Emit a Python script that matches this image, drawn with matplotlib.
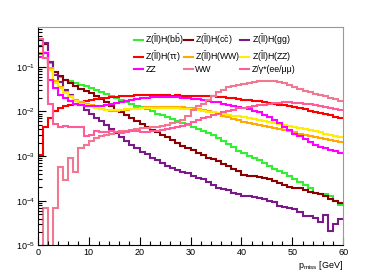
import numpy as np
import matplotlib
matplotlib.use('Agg')
import matplotlib.pyplot as plt
from matplotlib.ticker import LogLocator, MultipleLocator, NullFormatter

plt.rcParams['font.family'] = ['Liberation Sans', 'DejaVu Sans']
plt.rcParams['mathtext.fontset'] = 'custom'
plt.rcParams['mathtext.rm'] = 'Liberation Sans'
plt.rcParams['mathtext.it'] = 'Liberation Sans:italic'

# p_miss bins: 1 GeV wide, 0-60 GeV
edges = np.linspace(0, 60, 61)

zh_bb = [0.19, 0.20, 0.12, 0.075, 0.06, 0.052, 0.047, 0.043, 0.040, 0.037,
         0.034, 0.031, 0.028, 0.025, 0.022, 0.020, 0.018, 0.016, 0.0148, 0.0136,
         0.0125, 0.0112, 0.0100, 0.0090, 0.0082, 0.0074, 0.0067, 0.0060, 0.0054, 0.0049,
         0.0045, 0.0041, 0.0037, 0.0033, 0.0029, 0.0026, 0.0022, 0.0019, 0.0016, 0.0013,
         0.00115, 0.00100, 0.00090, 0.00080, 0.00070, 0.00060, 0.00052, 0.00046, 0.00041, 0.00035,
         0.00030, 0.00026, 0.00022, 0.00019, 0.00015, 0.000145, 0.00014, 0.00013, 0.00010, 0.00008]
zh_cc = [0.30, 0.32, 0.13, 0.075, 0.062, 0.050, 0.043, 0.037, 0.032, 0.029,
         0.026, 0.022, 0.019, 0.016, 0.013, 0.011, 0.0095, 0.0082, 0.0070, 0.0060,
         0.0052, 0.0045, 0.0039, 0.0034, 0.0030, 0.0027, 0.0023, 0.0020, 0.0017, 0.0015,
         0.0014, 0.0012, 0.00105, 0.00092, 0.00085, 0.00078, 0.00068, 0.00060, 0.00052, 0.00046,
         0.00038, 0.00036, 0.00035, 0.00034, 0.00033, 0.00031, 0.00028, 0.00025, 0.00022, 0.00020,
         0.00019, 0.00019, 0.00017, 0.00016, 0.00015, 0.000145, 0.00013, 0.00011, 0.00010, 0.00009]
zh_gg = [0.30, 0.34, 0.13, 0.066, 0.045, 0.031, 0.024, 0.018, 0.014, 0.011,
         0.0090, 0.0073, 0.0060, 0.0050, 0.0040, 0.0033, 0.0027, 0.0022, 0.0018, 0.0015,
         0.00126, 0.0011, 0.0009, 0.0008, 0.0007, 0.00059, 0.00055, 0.00050, 0.00045, 0.00042,
         0.00035, 0.00033, 0.00030, 0.00026, 0.00022, 0.00019, 0.00018, 0.00017, 0.00015, 0.00014,
         0.000125, 0.00013, 0.00012, 0.000115, 0.00011, 0.00010, 0.000095, 0.000075, 0.000072, 0.00007,
         0.000065, 0.000055, 0.000046, 0.000045, 0.000042, 0.000034, 0.000048, 0.000021, 0.00003, 0.00004]
zh_tautau = [0.00107, 0.0046, 0.0070, 0.0105, 0.0120, 0.0130, 0.0140, 0.0150, 0.0160, 0.0170,
             0.0180, 0.0190, 0.0200, 0.0205, 0.0210, 0.0215, 0.0220, 0.0225, 0.0228, 0.0230,
             0.0232, 0.0235, 0.0235, 0.0233, 0.0232, 0.0230, 0.0228, 0.0230, 0.0228, 0.0225,
             0.0222, 0.0222, 0.0225, 0.0222, 0.0220, 0.0215, 0.0210, 0.0205, 0.0200, 0.0190,
             0.0185, 0.0180, 0.0175, 0.0168, 0.0162, 0.0156, 0.0150, 0.0143, 0.0137, 0.0130,
             0.0124, 0.0117, 0.0111, 0.0105, 0.0099, 0.0094, 0.0088, 0.0082, 0.0077, 0.0071]
zh_ww = [0.20, 0.20, 0.093, 0.047, 0.035, 0.028, 0.022, 0.018, 0.016, 0.015,
         0.014, 0.0125, 0.0115, 0.0108, 0.0105, 0.0105, 0.0108, 0.0110, 0.0113, 0.0118,
         0.0120, 0.0123, 0.0125, 0.0127, 0.0128, 0.0128, 0.0128, 0.0125, 0.0123, 0.0121,
         0.0118, 0.0112, 0.0108, 0.0102, 0.0097, 0.0092, 0.0080, 0.0074, 0.0068, 0.0063,
         0.0059, 0.0055, 0.0052, 0.0049, 0.0047, 0.0045, 0.0043, 0.0041, 0.0038, 0.0036,
         0.0034, 0.0032, 0.0030, 0.0028, 0.0027, 0.0026, 0.0024, 0.0023, 0.0022, 0.0021]
zh_zz = [0.17, 0.22, 0.085, 0.043, 0.033, 0.026, 0.021, 0.017, 0.015, 0.014,
         0.013, 0.012, 0.0115, 0.011, 0.011, 0.011, 0.011, 0.0112, 0.0113, 0.0115,
         0.0117, 0.0118, 0.0120, 0.0121, 0.0122, 0.0122, 0.0120, 0.0118, 0.0115, 0.0112,
         0.0110, 0.0107, 0.0103, 0.0099, 0.0095, 0.0092, 0.0088, 0.0085, 0.0081, 0.0078,
         0.0075, 0.0072, 0.0068, 0.0065, 0.0062, 0.0059, 0.0056, 0.0053, 0.0050, 0.0047,
         0.0045, 0.0042, 0.0040, 0.0038, 0.0036, 0.0034, 0.0032, 0.0030, 0.0028, 0.0027]
zz = [0.17, 0.20, 0.050, 0.033, 0.024, 0.020, 0.017, 0.015, 0.014, 0.0135,
      0.013, 0.013, 0.0132, 0.0138, 0.0145, 0.0155, 0.0165, 0.0175, 0.0185, 0.0195,
      0.020, 0.0205, 0.021, 0.0215, 0.0215, 0.0215, 0.0212, 0.021, 0.0205, 0.020,
      0.0195, 0.0188, 0.018, 0.0173, 0.0167, 0.016, 0.015, 0.0143, 0.0135, 0.0128,
      0.012, 0.0112, 0.0105, 0.0095, 0.0085, 0.0075, 0.0065, 0.0055, 0.0045, 0.0038,
      0.0032, 0.0028, 0.0024, 0.0021, 0.0018, 0.0016, 0.0015, 0.0014, 0.0013, 0.00115]
ww = [0, 7e-5, 0, 7e-5, 5.8e-4, 2.9e-4, 9e-4, 4.4e-4, 1.5e-3, 1.8e-3,
      2.2e-3, 2.5e-3, 2.8e-3, 3.0e-3, 3.2e-3, 3.4e-3, 3.6e-3, 3.7e-3, 3.9e-3, 4.0e-3,
      4.2e-3, 4.3e-3, 4.4e-3, 4.6e-3, 4.7e-3, 5.0e-3, 5.4e-3, 5.8e-3, 6.5e-3, 8.0e-3,
      0.011, 0.013, 0.015, 0.018, 0.022, 0.027, 0.031, 0.035, 0.038, 0.040,
      0.042, 0.044, 0.046, 0.047, 0.047, 0.047, 0.047, 0.045, 0.043, 0.040,
      0.036, 0.032, 0.029, 0.027, 0.025, 0.024, 0.022, 0.020, 0.019, 0.017]
zgamma = [0.43, 0.16, 0.015, 0.0052, 0.0046, 0.0047, 0.0044, 0.0046, 0.0045, 0.0028,
          0.0030, 0.0036, 0.0035, 0.0034, 0.0036, 0.0034, 0.0033, 0.0035, 0.0037, 0.0036,
          0.0035, 0.0034, 0.0036, 0.0037, 0.0039, 0.0040, 0.0042, 0.0044, 0.0047, 0.0052,
          0.0058, 0.0064, 0.0070, 0.0076, 0.0082, 0.0088, 0.0095, 0.0102, 0.0110, 0.0117,
          0.0122, 0.0128, 0.0133, 0.0138, 0.0143, 0.0148, 0.0153, 0.0157, 0.0160, 0.0160,
          0.0158, 0.0155, 0.0150, 0.0145, 0.0140, 0.0133, 0.0127, 0.0121, 0.0116, 0.0110]

series = [
    (zh_bb, '#33ee33', r'Z($\bar{\mathrm{l}}$l)H(b$\bar{\mathrm{b}}$)'),
    (zh_cc, '#8b0000', r'Z($\bar{\mathrm{l}}$l)H(c$\bar{\mathrm{c}}$)'),
    (zh_gg, '#7a1a8a', r'Z($\bar{\mathrm{l}}$l)H(gg)'),
    (zh_tautau, '#ff0000', r'Z($\bar{\mathrm{l}}$l)H(ττ)'),
    (zh_ww, '#ffaa00', r'Z($\bar{\mathrm{l}}$l)H(WW)'),
    (zh_zz, '#ffee00', r'Z($\bar{\mathrm{l}}$l)H(ZZ)'),
    (zz, '#ff00ff', 'ZZ'),
    (ww, '#f07890', 'WW'),
    (zgamma, '#ff5c9a', 'Z/γ*(ee/μμ)'),
]

fig = plt.figure(figsize=(3.81, 2.73), dpi=100)
ax = fig.add_axes([0.099, 0.101, 0.802, 0.80])

handles = []
for vals, col, lab in series:
    h = ax.stairs(vals, edges, color=col, lw=1.5, baseline=None, label=lab)
    handles.append(h)

ax.set_yscale('log')
ax.set_xlim(0, 60)
ax.set_ylim(1e-5, 0.78)

ax.xaxis.set_major_locator(MultipleLocator(10))
ax.xaxis.set_minor_locator(MultipleLocator(2))
ax.yaxis.set_major_locator(LogLocator(base=10, numticks=10))
ax.yaxis.set_minor_locator(LogLocator(base=10, subs=np.arange(2, 10), numticks=20))
ax.yaxis.set_minor_formatter(NullFormatter())
ax.tick_params(which='both', direction='in', top=False, right=False, labelsize=6.5, pad=2)
ax.tick_params(which='major', length=6, width=0.8)
ax.tick_params(which='minor', length=3, width=0.8)
ax.spines['top'].set_color('#999999')
ax.spines['right'].set_color('#999999')

ax.set_xlabel(r'p$_{\mathrm{miss}}$ [GeV]', loc='right', fontsize=6.5, labelpad=1)

# ROOT-style legend is filled row by row; matplotlib fills columns, so reorder
order = [0, 3, 6, 1, 4, 7, 2, 5, 8]
ax.legend([handles[i] for i in order], [series[i][2] for i in order],
          ncol=3, frameon=False, fontsize=6.3, loc='upper left',
          bbox_to_anchor=(0.315, 0.975), borderaxespad=0, borderpad=0,
          handlelength=1.0, handletextpad=0.3, columnspacing=0.0, labelspacing=0.2)

fig.savefig('out.png', dpi=100)
